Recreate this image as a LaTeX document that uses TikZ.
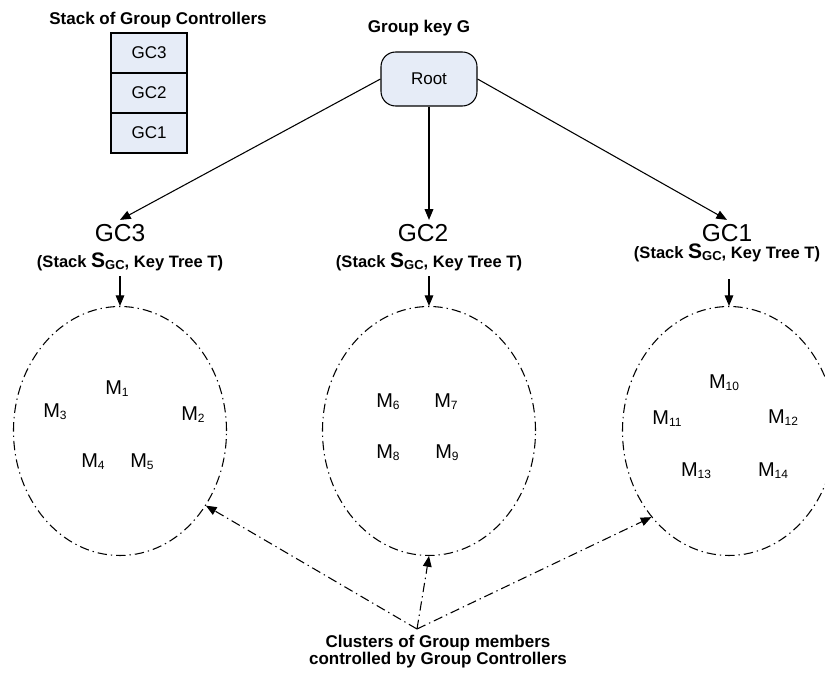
\documentclass[tikz,border=0pt]{standalone}
\usepackage{fontspec}
\setmainfont{Liberation Sans}
\usepackage{xcolor}
\usepackage{tikz}
\usetikzlibrary{shapes}
\usetikzlibrary{positioning}
\usetikzlibrary{shapes.geometric}
\usetikzlibrary{arrows.meta}

\definecolor{boxblue}{RGB}{230,236,247}
\newcommand{\memb}[1]{M\raisebox{-1pt}{\fontsize{9}{10}\selectfont #1}}
\newcommand{\sgc}{{\fontsize{15.75}{18}\selectfont S}\raisebox{-1.2pt}{\fontsize{9.75}{11}\selectfont GC}}

\begin{document}
\begin{tikzpicture}[
	x=0.75pt, y=-0.75pt,
	line width=0.8pt,
	font=\fontsize{12.75}{15}\selectfont
]
\tikzset{
    stackbox/.style = {rectangle, draw=black, fill=boxblue, minimum width=57pt, minimum height=30pt, inner sep=0pt, outer sep=0pt},
    rootbox/.style = {rectangle, rounded corners=11pt, draw=black, fill=boxblue, minimum width=72pt, minimum height=40.5pt},
    cluster/.style = {ellipse, draw=black, dash pattern=on 7pt off 3pt on 1pt off 3pt, minimum width=159.75pt, minimum height=186.75pt},
    gclabel/.style = {anchor=base, font=\fontsize{18.4}{22}\selectfont},
    gcnote/.style = {anchor=base, font=\fontsize{12.4}{15}\selectfont\bfseries},
    member/.style = {anchor=base, font=\fontsize{15}{18}\selectfont, inner sep=0pt},
    heading/.style = {anchor=base, font=\fontsize{12.75}{12.75}\selectfont\bfseries},
    arr/.style = {-{Triangle[length=8pt,width=6.5pt]}},
    dotarr/.style = {arr, dash pattern=on 7pt off 3pt on 1pt off 3pt}
}
\useasboundingbox (0,0) rectangle (825,673);
\node[heading] (stacktitle) at (158,25) {Stack of Group Controllers};
\node[stackbox] (s3box) at (149,53) {GC3};
\node[stackbox,below=0pt of s3box] (s2box) {GC2};
\node[stackbox,below=0pt of s2box] (s1box) {GC1};
\node[heading] (keytitle) at (419,33) {Group key G};
\node[rootbox] (root) at (429,79) {Root};
\node[gclabel] (g3) at (120,242) {GC3};
\node[gclabel] (g2) at (423,242) {GC2};
\node[gclabel] (g1) at (727,242) {GC1};
\node[gcnote] (n3) at (130,268) {(Stack \sgc, Key Tree T)};
\node[gcnote] (n2) at (429,268) {(Stack \sgc, Key Tree T)};
\node[gcnote] (n1) at (727,259) {(Stack \sgc, Key Tree T)};
\node[cluster] (c3) at (120,431) {};
\node[cluster] (c2) at (429,431) {};
\node[cluster] (c1) at (729,431) {};
\node[member] (m1) at (117,395) {\memb{1}};
\node[member] (m2) at (193,421) {\memb{2}};
\node[member] (m3) at (55,418) {\memb{3}};
\node[member] (m4) at (93,468) {\memb{4}};
\node[member] (m5) at (142,468) {\memb{5}};
\node[member] (m6) at (388,408) {\memb{6}};
\node[member] (m7) at (446,408) {\memb{7}};
\node[member] (m8) at (388,459) {\memb{8}};
\node[member] (m9) at (447,459) {\memb{9}};
\node[member] (m10) at (724,389) {\memb{10}};
\node[member] (m11) at (667,425) {\memb{11}};
\node[member] (m12) at (783,424) {\memb{12}};
\node[member] (m13) at (696,477) {\memb{13}};
\node[member] (m14) at (773,477) {\memb{14}};
\node[heading,anchor=center,align=center] (caption) at (438,652) {Clusters of Group members\\controlled by Group Controllers};
\coordinate (apex) at (417,629);
\draw[arr] (root.west) -- (g3.north);
\draw[arr] (root.south) -- (root.south |- g2.north);
\draw[arr] (root.east) -- (g1.north);
\draw[arr] (c3.north |- n3.south) -- (c3.north);
\draw[arr] (c2.north |- n2.south) -- (c2.north);
\draw[arr,shorten <=9pt] (c1.north |- n1.south) -- (c1.north);
\draw[dotarr] (apex) -- (c3.-41);
\draw[dotarr] (apex) -- (c2.south);
\draw[dotarr] (apex) -- (c1.-132);
\end{tikzpicture}
\end{document}
